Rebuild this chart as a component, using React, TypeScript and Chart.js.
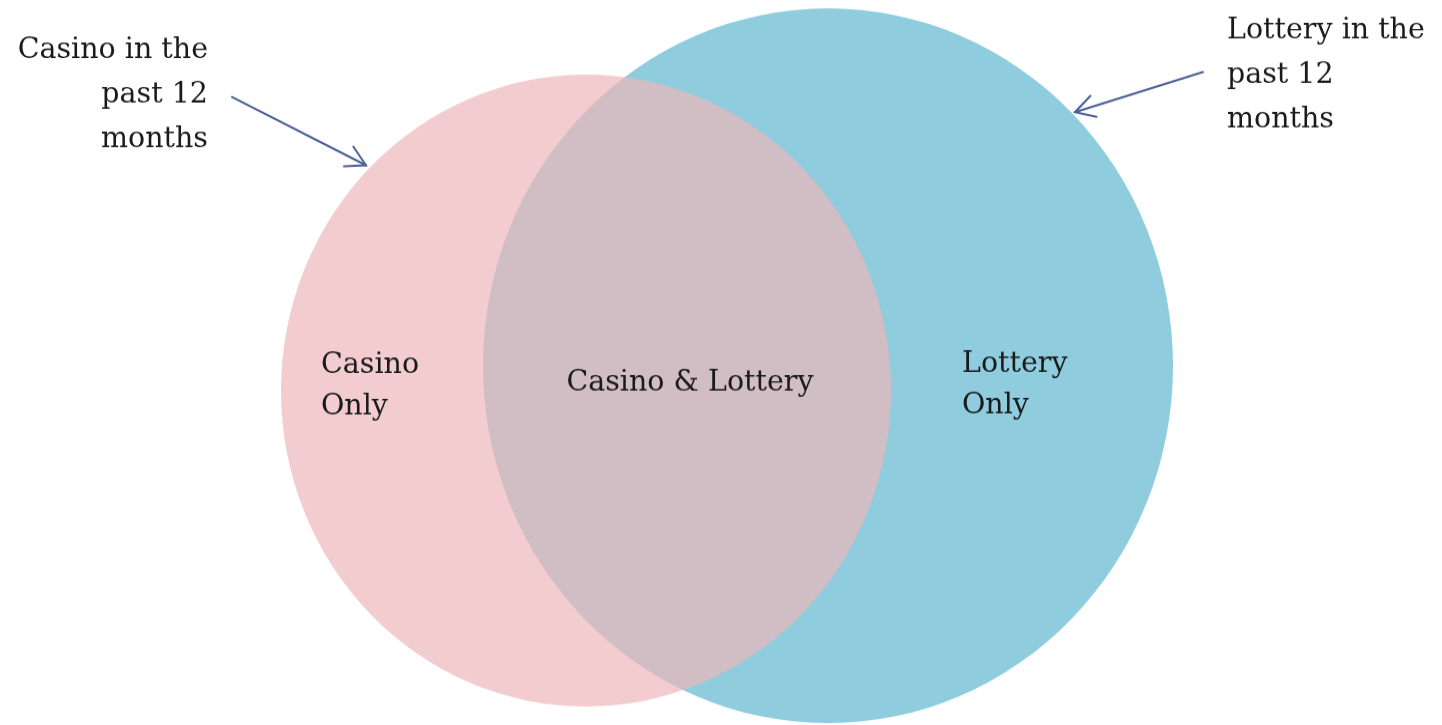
import React, { useEffect, useRef } from 'react';
import { Chart, registerables } from 'chart.js';

Chart.register(...registerables);

// Venn sets: centre (x, y) and radius in the chart's own units
const setNames = ['Casino in the past 12 months', 'Lottery in the past 12 months'];
const setCenterX = [586, 828];
const setCenterY = [377, 353];
const setRadius = [305, 345];
const setColors = ['rgba(236,182,185,0.7)', 'rgb(143,205,222)'];

// Region labels inside the diagram
const regionLabels = [['Casino', 'Only'], ['Casino & Lottery'], ['Lottery', 'Only']];
// Call-out labels outside the diagram
const calloutLabels = [
  ['Casino in the', 'past 12', 'months'],
  ['Lottery in the', 'past 12', 'months'],
];

const STRETCH = 1.036;
const W = 1442;
const H = 725;
const CH = Math.round(H / STRETCH);

const FONT = '28.5px "DejaVu Serif"';
const TEXT_COLOR = '#1a1a1a';
const ARROW_COLOR = '#4a5f96';

const labelPlugin = {
  id: 'vennLabels',
  afterDatasetsDraw(chart: any) {
    const { ctx, scales } = chart;
    const px = (v: number) => scales.x.getPixelForValue(v);
    const py = (v: number) => scales.y.getPixelForValue(v);
    ctx.save();
    ctx.font = FONT;
    ctx.fillStyle = TEXT_COLOR;
    ctx.textBaseline = 'alphabetic';

    // region labels
    const regionAnchors = [
      { x: 321, y: 360, align: 'left' },
      { x: 690, y: 377, align: 'center' },
      { x: 962, y: 359, align: 'left' },
    ];
    regionLabels.forEach((lines, i) => {
      const a = regionAnchors[i];
      ctx.textAlign = a.align;
      lines.forEach((t, j) => ctx.fillText(t, px(a.x), py(a.y + j * 40)));
    });

    // callouts
    const calloutAnchors = [
      { x: 208, y: 56, align: 'right' },
      { x: 1227, y: 36.5, align: 'left' },
    ];
    calloutLabels.forEach((lines, i) => {
      const a = calloutAnchors[i];
      ctx.textAlign = a.align;
      lines.forEach((t, j) => ctx.fillText(t, px(a.x), py(a.y + j * 43)));
    });

    // arrows
    const arrows = [
      { x0: 232, y0: 93.6, x1: 366, y1: 159.5 },
      { x0: 1203, y0: 69.5, x1: 1075, y1: 108.2 },
    ];
    ctx.strokeStyle = ARROW_COLOR;
    ctx.lineWidth = 2;
    ctx.lineCap = 'round';
    arrows.forEach((a) => {
      const sx = px(a.x0), sy = py(a.y0), ex = px(a.x1), ey = py(a.y1);
      ctx.beginPath();
      ctx.moveTo(sx, sy);
      ctx.lineTo(ex, ey);
      ctx.stroke();
      const ang = Math.atan2(ey - sy, ex - sx);
      const len = 22;
      const spread = 0.5;
      ctx.beginPath();
      ctx.moveTo(ex - len * Math.cos(ang - spread), ey - len * Math.sin(ang - spread));
      ctx.lineTo(ex, ey);
      ctx.lineTo(ex - len * Math.cos(ang + spread), ey - len * Math.sin(ang + spread));
      ctx.stroke();
    });
    ctx.restore();
  },
};

export default function App() {
  const canvasRef = useRef<HTMLCanvasElement | null>(null);

  useEffect(() => {
    document.body.style.margin = '0';
    document.body.style.background = '#ffffff';
    const canvas = canvasRef.current;
    if (!canvas) return;
    const chart = new Chart(canvas, {
      type: 'bubble',
      data: {
        datasets: setNames.map((name, i) => ({
          label: name,
          data: [{ x: setCenterX[i], y: setCenterY[i], r: setRadius[i] }],
          backgroundColor: setColors[i],
          borderWidth: 0,
          hoverRadius: 0,
          clip: false,
        })),
      },
      options: {
        animation: false,
        responsive: true,
        maintainAspectRatio: false,
        events: [],
        layout: { padding: 0, autoPadding: false },
        plugins: {
          legend: { display: false },
          tooltip: { enabled: false },
          title: { display: false },
        },
        scales: {
          x: { type: 'linear', min: 0, max: W, display: false },
          y: { type: 'linear', min: 0, max: CH, reverse: true, display: false },
        },
      },
      plugins: [labelPlugin],
    } as any);
    return () => chart.destroy();
  }, []);

  return (
    <div style={{ width: W, height: H, overflow: 'hidden', background: '#fff' }}>
      <div
        style={{
          width: W,
          height: CH,
          transform: `scaleY(${STRETCH})`,
          transformOrigin: '0 0',
          position: 'relative',
        }}
      >
        <canvas ref={canvasRef} />
      </div>
    </div>
  );
}
